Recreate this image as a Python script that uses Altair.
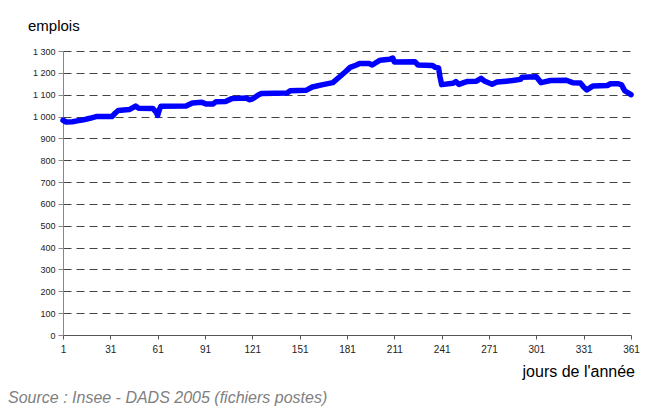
import altair as alt
import pandas as pd

# Daily employment readings (day of year, number of jobs)
days = [1, 3, 7, 10, 14, 18, 22, 32, 34, 36, 43, 47, 49, 58, 60, 61, 62, 63, 79, 83,
        89, 92, 96, 98, 104, 108, 117, 119, 121, 125, 127, 143, 145, 155, 159, 165, 172,
        176, 180, 183, 187, 189, 195, 197, 199, 202, 208, 210, 211, 224, 226, 235, 237,
        239, 240, 241, 248, 250, 252, 255, 257, 263, 266, 268, 273, 276, 282, 286, 291,
        292, 301, 304, 310, 320, 324, 329, 331, 333, 337, 346, 348, 353, 355, 357, 361]
emplois = [983, 975, 976, 980, 985, 992, 1000, 1000, 1015, 1028, 1032, 1048, 1038, 1037,
           1020, 1005, 1030, 1047, 1048, 1062, 1065, 1057, 1057, 1068, 1069, 1082, 1085,
           1077, 1080, 1100, 1106, 1108, 1118, 1120, 1135, 1145, 1155, 1180, 1205, 1225,
           1236, 1243, 1243, 1236, 1245, 1258, 1262, 1268, 1250, 1251, 1236, 1234, 1225,
           1222, 1180, 1146, 1152, 1160, 1147, 1155, 1160, 1162, 1175, 1163, 1148, 1158,
           1162, 1165, 1170, 1180, 1182, 1155, 1165, 1166, 1155, 1153, 1135, 1122, 1140,
           1142, 1150, 1150, 1145, 1118, 1100]

x_ticks = [1, 31, 61, 91, 121, 151, 181, 211, 241, 271, 301, 331, 361]
y_ticks = list(range(0, 1301, 100))

y_label = "emplois"
x_label = "jours de l'année"
source = "Source : Insee - DADS 2005 (fichiers postes)"

df = pd.DataFrame({"jour": days, "emplois": emplois})

FONT = "Liberation Sans"

line = alt.Chart(df).mark_line(
    color="#0000ff", strokeWidth=5.5, strokeJoin="round", strokeCap="round"
).encode(
    x=alt.X("jour:Q", scale=alt.Scale(domain=[1, 361], nice=False, zero=False),
            axis=alt.Axis(values=x_ticks, title=None, grid=False, tickSize=4,
                          labelPadding=5, labelFontSize=10, labelFont=FONT,
                          labelColor="#222", domainColor="#555", tickColor="#555",
                          labelFlush=False)),
    y=alt.Y("emplois:Q", scale=alt.Scale(domain=[0, 1300], nice=False),
            axis=alt.Axis(values=y_ticks, title=None, grid=True, gridDash=[8, 5],
                          gridColor="#444", gridWidth=1, tickSize=5, labelPadding=3,
                          labelFontSize=9, labelFont=FONT, labelColor="#222",
                          domainColor="#888", tickColor="#888",
                          labelExpr="replace(format(datum.value, ','), ',', ' ')")),
)

def txt(s, x, y, size, align="left", color="#000", style="normal"):
    return alt.Chart(pd.DataFrame({"t": [s]})).mark_text(
        align=align, baseline="middle", fontSize=size, font=FONT,
        color=color, fontStyle=style
    ).encode(x=alt.value(x), y=alt.value(y), text="t:N")

chart = alt.layer(
    line,
    txt(y_label, -35, -25, 15),
    txt(x_label, 572, 321, 16, align="right"),
    txt(source, -55, 347, 16, color="#808080", style="italic"),
).properties(
    width=568, height=284,
    autosize=alt.AutoSizeParams(type="none"),
    padding={"left": 55, "top": 43, "right": 10, "bottom": 75},
).configure_view(stroke=None)

chart.save("out.html", embed_options={"renderer": "svg", "actions": False})
